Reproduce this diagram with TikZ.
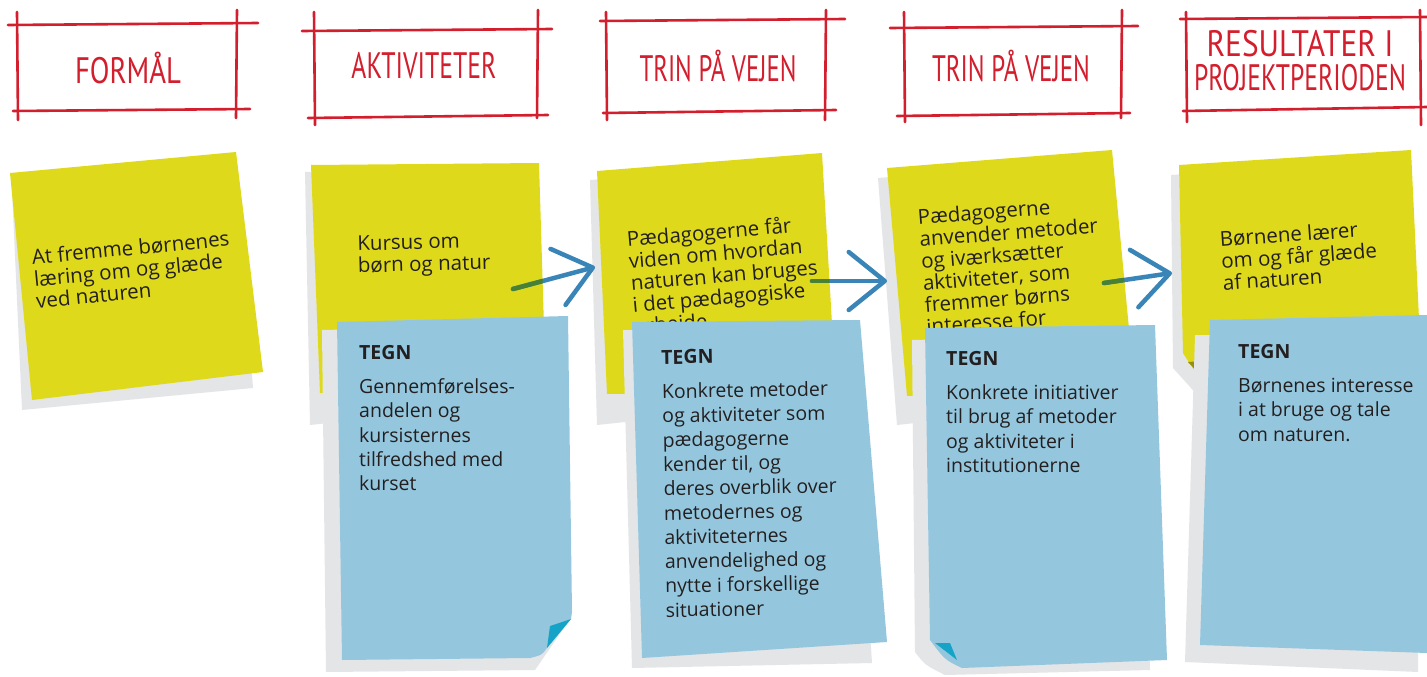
\documentclass[tikz,border=0pt]{standalone}
\usepackage{fontspec}
\usepackage{graphicx}
\setmainfont{Open Sans}
\newfontfamily\hdrfont{PT Sans}
\usetikzlibrary{arrows.meta}
\definecolor{hred}{RGB}{210,30,45}
\definecolor{pyellow}{RGB}{222,217,27}
\definecolor{pblue}{RGB}{148,199,222}
\definecolor{pshadow}{RGB}{228,229,231}
\definecolor{pcurl}{RGB}{22,163,200}
\definecolor{ycurl}{RGB}{150,142,18}
\definecolor{ink}{RGB}{35,31,32}
\definecolor{arrowblue}{RGB}{58,133,184}
\definecolor{arrowgreen}{RGB}{72,128,52}
\newcommand\hw[2]{\resizebox{#1}{1.15\height}{#2}}
\begin{document}
\begin{tikzpicture}[x=1pt,y=-1pt,line join=round,
  frame/.style={draw=hred,line width=2.6pt,line cap=round},
  hdr/.style={text=hred,inner sep=0pt,align=center,font=\hdrfont\fontsize{32}{34}\selectfont},
  ytext/.style={text=ink,inner sep=0pt,anchor=north west,align=left,font=\fontsize{20.5}{22}\selectfont},
  btext/.style={text=ink,inner sep=0pt,anchor=north west,align=left,font=\fontsize{19.5}{24.3}\selectfont},
  ynote/.style={fill=pyellow},
  bnote/.style={fill=pblue},
  shade/.style={fill=pshadow},
  flow/.style={draw=arrowblue,line width=4.5pt,line cap=round,-{Straight Barb[length=36pt,width=58pt,round]}},
  flowtail/.style={draw=arrowgreen,line width=4.5pt,line cap=round}
]
\useasboundingbox (0,0) rectangle (1427,677);
\fill[white] (0,0) rectangle (1427,677);

% ---------- header frames ----------
\draw[frame] (8,25) -- (258,23);   \draw[frame] (13,111) -- (250,109);
\draw[frame] (17,12) -- (18,120);  \draw[frame] (237,10) -- (236,118);
\draw[frame] (302,31) -- (552,29); \draw[frame] (308,118) -- (548,115);
\draw[frame] (314,12) -- (315,125);\draw[frame] (538,10) -- (537,118);
\draw[frame] (600,21) -- (845,19); \draw[frame] (603,113) -- (836,110);
\draw[frame] (606,12) -- (607,120);\draw[frame] (826,10) -- (825,120);
\draw[frame] (890,28) -- (1138,26); \draw[frame] (897,116) -- (1130,113);
\draw[frame] (904,12) -- (905,122);\draw[frame] (1122,10) -- (1121,118);
\draw[frame] (1180,19) -- (1427,17);\draw[frame] (1183,111) -- (1427,107);
\draw[frame] (1186,12) -- (1187,122);\draw[frame] (1420,10) -- (1421,125);

\node[hdr] (h1) at (128,68) {\hw{106pt}{FORMÅL}};
\node[hdr] (h2) at (424,66) {\hw{145pt}{AKTIVITETER}};
\node[hdr] (h3) at (718,66) {\hw{157pt}{TRIN PÅ VEJEN}};
\node[hdr] (h4) at (1011,66) {\hw{158pt}{TRIN PÅ VEJEN}};
\node[hdr] (h5) at (1300,61) {\hw{187pt}{RESULTATER I}\\\hw{212pt}{PROJEKTPERIODEN}};

% ---------- yellow notes ----------
\def\yA{(10,173) -- (236,152) -- (263,372) -- (32,400) -- cycle}
\def\yB{(311,165) -- (539,163) -- (546,392) -- (320,393) -- cycle}
\def\yC{(597,171) -- (822,153) -- (836,392) -- (607,394) -- cycle}
\def\yD{(887,168) -- (1112,150) -- (1135,392) -- (907,396) -- cycle}
\def\yE{(1179,165) -- (1411,150) -- (1420,340) -- (1215,385) -- (1206,382) .. controls (1195,372) .. (1183,353) -- cycle}

\fill[shade] (12,190) -- (236,166) -- (253,388) -- (22,410) -- cycle;
\fill[shade] (305,172) -- (530,170) -- (540,400) -- (310,425) -- cycle;
\fill[shade] (590,180) -- (815,165) -- (830,400) -- (597,425) -- cycle;
\fill[shade] (878,178) -- (1105,160) -- (1125,400) -- (897,425) -- cycle;
\fill[shade] (1171,175) -- (1400,160) -- (1410,340) -- (1200,398) -- (1173,368) -- cycle;

\fill[ynote] \yA; \fill[ynote] \yB; \fill[ynote] \yC; \fill[ynote] \yD; \fill[ynote] \yE;
\fill[ycurl] (1188,362) -- (1202,361) -- (1207,382) -- cycle;

\node[ytext,rotate=5.5] (y1) at (31,249) {At fremme børnenes\\læring om og glæde\\ved naturen};
\node[ytext,rotate=1.5] (y2) at (357,236) {Kursus om\\børn og natur};
\node[ytext,rotate=5] (y3) at (626,230) {Pædagogerne får\\viden om hvordan\\naturen kan bruges\\i det pædagogiske\\arbejde};
\node[ytext,rotate=4.5] (y4) at (917,209) {Pædagogerne\\anvender metoder\\og iværksætter\\aktiviteter, som\\fremmer børns\\interesse for};
\node[ytext,rotate=4] (y5) at (1219,231) {Børnene lærer\\om og får glæde\\af naturen};

% ---------- arrows ----------
\coordinate (a1s) at (513,289); \coordinate (a1t) at (595,267);
\coordinate (a2s) at (812,281); \coordinate (a2t) at (887,281);
\coordinate (a3s) at (1104,283); \coordinate (a3t) at (1172,273);
\draw[flow] (a1s) -- (a1t);
\draw[flow] (a2s) -- (a2t);
\draw[flow] (a3s) -- (a3t);
\begin{scope}\clip \yB; \draw[flowtail] (a1s) -- (a1t); \end{scope}
\begin{scope}\clip \yC; \draw[flowtail] (a2s) -- (a2t); \end{scope}
\begin{scope}\clip \yD; \draw[flowtail] (a3s) -- (a3t); \end{scope}

% ---------- blue notes ----------
\fill[shade] (322,330) -- (560,325) -- (566,625) -- (535,670) -- (326,672) -- cycle;
\fill[shade] (623,330) -- (850,330) -- (872,663) -- (632,668) -- cycle;
\fill[shade] (912,340) -- (1140,335) -- (1150,670) -- (945,675) .. controls (925,665) .. (915,652) -- cycle;
\fill[shade] (1195,335) -- (1420,335) -- (1418,672) -- (1185,662) -- cycle;

\fill[bnote] (337,322) -- (568,316) -- (572,612) -- (571,619) -- (547,648) .. controls (542,655) .. (530,658) -- (342,660) -- cycle;
\fill[pcurl] (550,626) -- (571,619) -- (547,648) -- cycle;
\fill[bnote] (632,322) -- (860,320) -- (887,642) -- (642,658) -- cycle;
\fill[bnote] (925,328) -- (1155,325) -- (1167,660) -- (962,668) .. controls (945,660) .. (930,640) -- cycle;
\fill[pcurl] (935,643) -- (950,643) -- (957,660) -- cycle;
\fill[bnote] (1210,320) -- (1427,315) -- (1427,653) -- (1200,645) -- cycle;

\node[btext] (b1) at (359,345) {\textbf{TEGN}\\[10pt]Gennemførelses-\\andelen og\\kursisternes\\tilfredshed med\\kurset};
\node[btext,rotate=1] (b2) at (661,350) {\textbf{TEGN}\\[10pt]Konkrete metoder\\og aktiviteter som\\pædagogerne\\kender til, og\\deres overblik over\\metodernes og\\aktiviteternes\\anvendelighed og\\nytte i forskellige\\situationer};
\node[btext] (b3) at (946,351) {\textbf{TEGN}\\[10pt]Konkrete initiativer\\til brug af metoder\\og aktiviteter i\\institutionerne};
\node[btext] (b4) at (1238,344) {\textbf{TEGN}\\[10pt]Børnenes interesse\\i at bruge og tale\\om naturen.};
\end{tikzpicture}
\end{document}
